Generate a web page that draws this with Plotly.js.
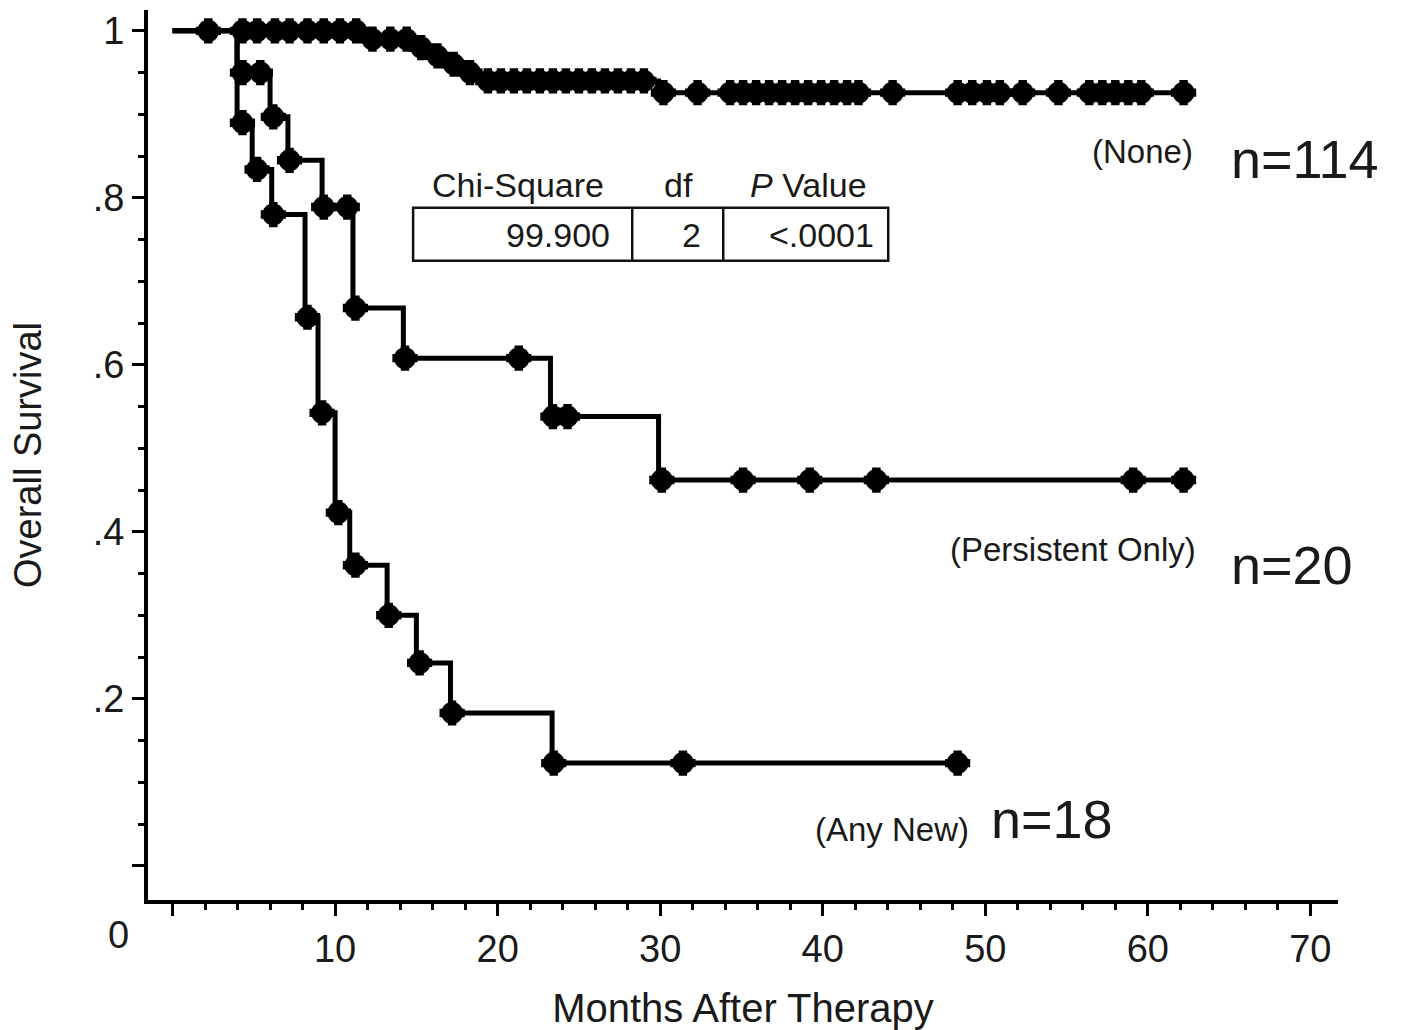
<!DOCTYPE html>
<html><head><meta charset="utf-8">
<script src="https://cdn.plot.ly/plotly-3.0.1.min.js"></script>
<style>html,body{margin:0;padding:0;background:#fff}</style>
</head><body><div id="chart" style="width:1406px;height:1030px"></div>
<script>
// Step curves: time of each step (months) and survival after the step
const noneTimes = [0, 11.6, 14.8, 15.8, 16.8, 17.8, 18.8, 29.9, 62.75];
const noneSurv  = [1, 0.990, 0.980, 0.970, 0.960, 0.950, 0.940, 0.926, 0.926];
const noneMarks = [2.2, 4.3, 5.2, 6.3, 7.2, 8.3, 9.3, 10.3, 11.3, 12.3, 13.4, 14.4, 15.3, 16.3, 17.3, 18.3,
  19.4, 20.2, 21.0, 21.8, 22.6, 23.4, 24.2, 25.0, 25.8, 26.6, 27.4, 28.2, 29.0,
  30.2, 32.3, 34.3, 35.1, 35.9, 36.7, 37.5, 38.3, 39.1, 39.9, 40.7, 41.5, 42.2, 44.3,
  48.3, 49.2, 50.1, 50.9, 52.3, 54.5, 56.4, 57.2, 58.0, 58.8, 59.6, 62.2];

const persTimes = [0, 3.97, 6.0, 7.1, 9.2, 11.1, 14.2, 23.25, 29.9, 62.75];
const persSurv  = [1, 0.95, 0.897, 0.845, 0.789, 0.668, 0.608, 0.538, 0.462, 0.462];
const persMarks = [4.3, 5.4, 6.2, 7.2, 9.3, 10.75, 11.25, 14.3, 21.3, 23.4, 24.3, 30.1, 35.1, 39.2, 43.3, 59.1, 62.2];

const anyTimes = [0, 3.97, 4.9, 6.1, 8.15, 8.95, 10.0, 10.9, 13.2, 15.0, 17.1, 23.35, 48.95];
const anySurv  = [1, 0.89, 0.834, 0.78, 0.657, 0.5425, 0.423, 0.36, 0.30, 0.243, 0.183, 0.123, 0.123];
const anyMarks = [4.3, 5.2, 6.2, 8.3, 9.2, 10.2, 11.25, 13.3, 15.2, 17.2, 23.45, 31.4, 48.3];

const groupLabels = ['(None)', '(Persistent Only)', '(Any New)'];
const groupN = ['n=114', 'n=20', 'n=18'];

const xTickVals = [0, 10, 20, 30, 40, 50, 60, 70];
const xTickText = ['', '10', '20', '30', '40', '50', '60', '70'];
const yTickVals = [0, 0.2, 0.4, 0.6, 0.8, 1];
const yTickText = ['', '.2', '.4', '.6', '.8', '1'];
const cornerLabel = '0';

const statHeaders = ['Chi-Square', 'df', '<i>P</i> Value'];
const statValues = ['99.900', '2', '<.0001'];

function survAt(times, surv, t) {
  let v = surv[0];
  for (let i = 0; i < times.length; i++) if (times[i] <= t) v = surv[i];
  return v;
}

const FONT = 'Liberation Sans, Arial, Helvetica, sans-serif';
const curves = [[noneTimes, noneSurv, noneMarks], [persTimes, persSurv, persMarks], [anyTimes, anySurv, anyMarks]];
const traces = [];
curves.forEach(function (c, i) {
  traces.push({x: c[0], y: c[1], type: 'scatter', mode: 'lines', name: groupLabels[i],
    line: {shape: 'hv', color: '#000', width: 5}, hoverinfo: 'skip', showlegend: false});
});
curves.forEach(function (c, i) {
  const my = c[2].map(function (t) { return survAt(c[0], c[1], t); });
  traces.push({x: c[2], y: my, type: 'scatter', mode: 'markers', showlegend: false,
    marker: {symbol: 'circle', size: 22, color: '#000'}, cliponaxis: false});
  traces.push({x: c[2], y: my, type: 'scatter', mode: 'markers', showlegend: false,
    marker: {symbol: 'cross', size: 21, color: '#000'}, cliponaxis: false});
});

const tableX = [14.8, 28.28, 33.88, 44.03];
const shapes = [
  {type: 'rect', xref: 'x', yref: 'y', x0: tableX[0], x1: tableX[3], y0: 0.7246, y1: 0.788, line: {color: '#111', width: 2.5}},
  {type: 'line', xref: 'x', yref: 'y', x0: tableX[1], x1: tableX[1], y0: 0.7246, y1: 0.788, line: {color: '#111', width: 2.5}},
  {type: 'line', xref: 'x', yref: 'y', x0: tableX[2], x1: tableX[2], y0: 0.7246, y1: 0.788, line: {color: '#111', width: 2.5}}
];

const txt = '#1a1a1a';
const annotations = [
  {x: 21.26, y: 0.815, text: statHeaders[0], xanchor: 'center', font: {size: 34}},
  {x: 31.1, y: 0.815, text: statHeaders[1], xanchor: 'center', font: {size: 34}},
  {x: 39.1, y: 0.815, text: statHeaders[2], xanchor: 'center', font: {size: 34}},
  {x: 27.05, y: 0.756, text: statValues[0], xanchor: 'right', font: {size: 34}},
  {x: 32.65, y: 0.756, text: statValues[1], xanchor: 'right', font: {size: 34}},
  {x: 43.3, y: 0.756, text: statValues[2], xanchor: 'right', font: {size: 34}},
  {x: 62.9, y: 0.856, text: groupLabels[0], xanchor: 'right', font: {size: 33}},
  {x: 63.1, y: 0.379, text: groupLabels[1], xanchor: 'right', font: {size: 33}},
  {x: 49.1, y: 0.043, text: groupLabels[2], xanchor: 'right', font: {size: 33}},
  {x: 65.0, y: 0.847, text: groupN[0], xanchor: 'left', font: {size: 54}},
  {x: 65.0, y: 0.36, text: groupN[1], xanchor: 'left', font: {size: 54}},
  {x: 50.2, y: 0.056, text: groupN[2], xanchor: 'left', font: {size: 54}},
  {xref: 'paper', yref: 'paper', x: -0.0252, y: -0.039, text: cornerLabel, xanchor: 'center', font: {size: 38}}
].map(function (a) {
  return Object.assign({xref: 'x', yref: 'y', showarrow: false, yanchor: 'middle'}, a,
    {font: {family: FONT, color: txt, size: a.font.size}});
});

const layout = {
  width: 1406, height: 1030,
  margin: {l: 148, r: 68, t: 10, b: 130},
  paper_bgcolor: '#fff', plot_bgcolor: '#fff',
  font: {family: FONT, color: txt},
  showlegend: false,
  xaxis: {
    range: [-1.51, 71.7], showgrid: false, zeroline: false,
    showline: true, linecolor: '#000', linewidth: 4,
    ticks: 'outside', ticklen: 12, tickwidth: 3, tickcolor: '#000',
    tickmode: 'array', tickvals: xTickVals, ticktext: xTickText,
    tickfont: {size: 38, family: FONT, color: txt},
    minor: {ticks: 'outside', ticklen: 6, tickwidth: 3, tickcolor: '#000', tickmode: 'linear', tick0: 0, dtick: 2, showgrid: false},
    title: {text: 'Months After Therapy', font: {size: 40, family: FONT, color: txt}, standoff: 26},
    automargin: false
  },
  yaxis: {
    range: [-0.041, 1.025], showgrid: false, zeroline: false,
    showline: true, linecolor: '#000', linewidth: 4,
    ticks: 'outside', ticklen: 12, tickwidth: 3, tickcolor: '#000',
    tickmode: 'array', tickvals: yTickVals, ticktext: yTickText,
    tickfont: {size: 38, family: FONT, color: txt},
    minor: {ticks: 'outside', ticklen: 6, tickwidth: 3, tickcolor: '#000', tickmode: 'linear', tick0: 0, dtick: 0.05, showgrid: false},
    title: {text: 'Overall Survival', font: {size: 38, family: FONT, color: txt}, standoff: 40},
    automargin: false
  },
  shapes: shapes,
  annotations: annotations
};

Plotly.newPlot('chart', traces, layout, {displayModeBar: false, staticPlot: true});
</script>
</body></html>
